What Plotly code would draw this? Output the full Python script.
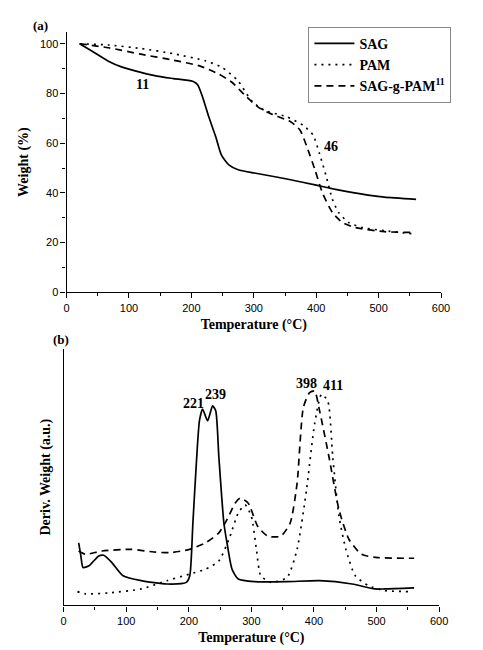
import plotly.graph_objects as go

# (a) TGA curves
sag_t = [21, 41, 67, 88, 119, 145, 171, 202, 210, 218, 228, 239, 248, 260, 275, 301, 353, 400, 431, 483, 509, 560]
sag_w = [100, 97, 93, 90.7, 88.5, 87, 86, 84.9, 83.5, 78.5, 70.5, 62.6, 55.3, 51.3, 49.3, 48, 45.6, 43.1, 41.4, 39.1, 38.3, 37.4]

pam_t = [21, 67, 119, 171, 223, 249, 275, 296, 317, 353, 379, 395, 405, 416, 426, 436, 452, 473, 509, 556]
pam_w = [100, 99.5, 98.1, 96, 93.1, 90.5, 85, 77.2, 73.2, 70.6, 67.2, 63.3, 56, 46.7, 37.4, 32.1, 28.1, 26.1, 24.8, 23.5]

graft_t = [21, 67, 119, 171, 213, 244, 265, 286, 307, 327, 359, 374, 385, 398, 410, 426, 442, 462, 509, 556]
graft_w = [100, 98.4, 95.8, 93.4, 91.1, 87.8, 84.5, 79.2, 74.5, 71.9, 68.6, 65.3, 58.6, 49.3, 40, 32.1, 28.1, 26.1, 24.4, 24.1]

# (b) DTG curves (arbitrary units)
sag_dt = [24, 27.5, 31, 40.5, 56, 64, 77, 95, 124, 165, 196, 201.5, 206.5, 212, 217, 222, 230, 238, 243, 248, 256, 261, 269, 279, 305, 357, 409, 461, 497, 513, 560]
sag_d = [19, 15, 11.5, 12, 15, 15.2, 13, 9, 7.5, 6.5, 7, 9, 25, 43, 56, 59.5, 56, 60.5, 59, 45, 25, 19, 11, 8, 7.2, 7.2, 7.5, 6.5, 5, 5, 5.3]

pam_dt = [22, 35, 72, 124, 165, 201, 227, 248, 264, 279, 290, 300, 308, 315, 331, 357, 373, 388, 401, 412, 422, 430, 440, 451, 466, 487, 513, 552]
pam_d = [4.2, 3.5, 3.8, 5, 7.5, 9.5, 11, 13.5, 20, 28, 30.5, 27, 17, 9, 7, 8.5, 17, 35, 55, 64, 62, 45, 27, 17, 9, 6, 4.5, 4.2]

graft_dt = [24, 35, 61, 108, 144, 170, 201, 227, 248, 261, 274, 282, 295, 310, 326, 347, 362, 373, 383, 393, 401, 409, 424, 440, 456, 476, 502, 560]
graft_d = [16.5, 15.5, 16.5, 17, 16.2, 16, 17, 19, 22, 26, 31, 32.5, 31, 24, 21, 21, 25, 37, 60, 64.5, 65, 59, 45, 29, 20, 15.5, 14.5, 14.3]

names = ["<b>SAG</b>", "<b>PAM</b>", "<b>SAG-g-PAM<sup>11</sup></b>"]
dashes = ["solid", "2px,5px", "7px,5px"]

serif = "Liberation Serif"
sans = "Liberation Sans"

fig = go.Figure()
tga = [(sag_t, sag_w), (pam_t, pam_w), (graft_t, graft_w)]
dtg = [(sag_dt, sag_d), (pam_dt, pam_d), (graft_dt, graft_d)]
for i in range(3):
    fig.add_trace(go.Scatter(x=tga[i][0], y=tga[i][1], mode="lines", name=names[i],
                             line=dict(color="black", width=1.7, dash=dashes[i], shape="spline", smoothing=0.6),
                             xaxis="x", yaxis="y"))
for i in range(3):
    fig.add_trace(go.Scatter(x=dtg[i][0], y=dtg[i][1], mode="lines", showlegend=False,
                             line=dict(color="black", width=1.7, dash=dashes[i], shape="spline", smoothing=0.6),
                             xaxis="x2", yaxis="y2"))

axis_common = dict(showline=True, linecolor="black", linewidth=1.2, showgrid=False, zeroline=False,
                   ticks="outside", ticklen=5, tickcolor="black",
                   tickfont=dict(family=sans, size=11, color="black"))
xa = dict(axis_common, range=[0, 600], dtick=100, minor=dict(dtick=50, ticks="outside", ticklen=3, tickcolor="black"),
          title=dict(text="<b>Temperature (°C)</b>", font=dict(family=serif, size=14, color="black"), standoff=6))

fig.update_layout(
    width=483, height=650,
    margin=dict(l=0, r=0, t=0, b=0),
    paper_bgcolor="white", plot_bgcolor="white",
    xaxis=dict(xa, domain=[0.118, 0.913], anchor="y"),
    yaxis=dict(axis_common, domain=[0.5585, 0.963], range=[0, 104.8], dtick=20, anchor="x",
               minor=dict(dtick=10, ticks="outside", ticklen=3, tickcolor="black"),
               title=dict(text="<b>Weight (%)</b>", font=dict(family=serif, size=14, color="black"), standoff=8)),
    xaxis2=dict(xa, domain=[0.1118, 0.909], anchor="y2"),
    yaxis2=dict(showline=True, linecolor="black", linewidth=1.2, showgrid=False, zeroline=False,
                showticklabels=False, ticks="", domain=[0.0723, 0.4708], range=[0, 77.8], anchor="x2",
                title=dict(text="<b>Deriv. Weight (a.u.)</b>", font=dict(family=serif, size=14, color="black"), standoff=8)),
    legend=dict(x=305 / 483, y=1 - 19 / 650, xanchor="left", yanchor="top",
                bordercolor="#888", borderwidth=1, bgcolor="white",
                font=dict(family=serif, size=14, color="black"), itemwidth=40,
                tracegroupgap=0),
    showlegend=True,
)

ann = [
    ("x", "y", 122, 83.8, "11"),
    ("x", "y", 424, 58.6, "46"),
    ("x2", "y2", 208, 61.3, "221"),
    ("x2", "y2", 243, 63.8, "239"),
    ("x2", "y2", 388, 67.3, "398"),
    ("x2", "y2", 430, 66.7, "411"),
]
for xr, yr, x, y, t in ann:
    fig.add_annotation(x=x, y=y, xref=xr, yref=yr, text="<b>" + t + "</b>", showarrow=False,
                       font=dict(family=serif, size=14, color="black"))

fig.add_annotation(x=20 / 483, y=1 - 8 / 650, xref="paper", yref="paper", text="<b>(a)</b>", showarrow=False,
                   font=dict(family=serif, size=13, color="black"))
fig.add_annotation(x=41 / 483, y=1 - 335 / 650, xref="paper", yref="paper", text="<b>(b)</b>", showarrow=False,
                   font=dict(family=serif, size=13, color="black"))

fig.write_html("out.html")
